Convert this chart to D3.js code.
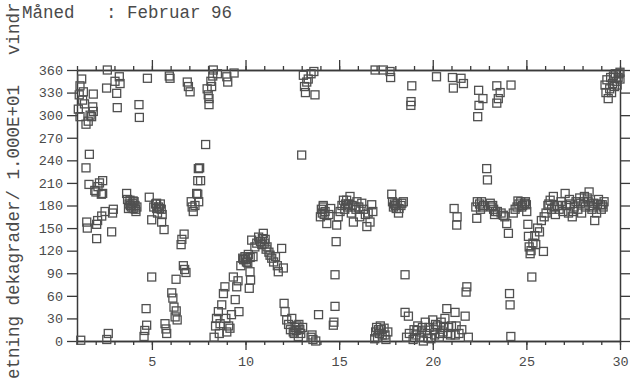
<!DOCTYPE html>
<html><head><meta charset="utf-8">
<script src="https://cdn.jsdelivr.net/npm/d3@7"></script>
<style>
html,body{margin:0;padding:0;background:#fff;}
svg{display:block;}
text{font-family:"Liberation Mono","DejaVu Sans Mono",monospace;}
</style></head>
<body>
<svg id="chart" width="631" height="380"></svg>
<script>
const titleText = "Måned   : Februar 96";
const yLabelTop = "vindr";
const yLabelBottom = "etning dekagrader/ 1.000E+01";
const yTicks = [0,30,60,90,120,150,180,210,240,270,300,330,360];
const xMajorTicks = [5,10,15,20,25,30];
const xMinorTicks = d3.range(1,31);
// [day of month, wind direction in degrees]
const observations = [
[1.07,308],[1.12,327],[1.16,339],[1.16,298],[1.2,1],[1.25,348],[1.3,320],[1.34,331],[1.4,315],[1.48,288],[1.48,230],[1.52,158],[1.55,150],[1.6,292],[1.64,208],[1.66,248],[1.7,300],[1.78,298],[1.84,311],[1.87,328],[1.87,305],[1.95,200],
[2.01,198],[2.05,136],[2.05,155],[2.1,160],[2.12,205],[2.2,210],[2.3,195],[2.32,166],[2.37,213],[2.37,196],[2.5,172],[2.58,336],[2.59,2],[2.62,360],[2.67,10],[2.85,145],[2.9,170],[2.94,175],
[3.03,345],[3.12,329],[3.15,310],[3.26,351],[3.3,342],[3.65,196],[3.7,188],[3.75,176],[3.78,182],[3.83,187],[3.85,180],[3.9,178],[3.95,183],[4.0,176],[4.0,186],[4.05,185],[4.1,180],[4.12,175],[4.15,172],[4.2,178],
[4.31,314],[4.33,297],[4.58,6],[4.62,14],[4.69,43],[4.72,21],[4.76,349],[4.86,191],[4.99,161],[4.99,85],
[5.1,178],[5.2,182],[5.25,183],[5.26,176],[5.3,170],[5.35,178],[5.4,176],[5.45,182],[5.5,175],[5.52,158],[5.55,168],[5.65,148],[5.7,23],[5.75,16],[5.79,10],[5.93,352],[5.97,349],
[6.06,64],[6.12,57],[6.18,45],[6.24,32],[6.29,82],[6.3,40],[6.35,28],[6.56,128],[6.6,135],[6.68,100],[6.72,142],[6.75,95],[6.82,91],[6.89,344],[6.95,338],
[7.04,331],[7.1,185],[7.15,178],[7.21,172],[7.3,180],[7.39,196],[7.45,213],[7.45,195],[7.48,229],[7.5,185],[7.55,230],[7.6,213],[7.87,261],[7.95,335],
[8.01,327],[8.05,322],[8.05,314],[8.15,345],[8.19,338],[8.25,352],[8.28,360],[8.32,5],[8.4,20],[8.45,30],[8.5,355],[8.55,39],[8.6,10],[8.64,23],[8.73,48],[8.82,63],[8.9,72],[8.95,30],
[9.0,12],[9.0,351],[9.05,344],[9.1,20],[9.17,17],[9.25,35],[9.35,85],[9.39,356],[9.45,55],[9.53,72],[9.6,80],[9.65,39],[9.75,100],[9.85,110],[9.9,108],
[9.97,112],[10.0,108],[10.05,105],[10.1,110],[10.12,104],[10.15,115],[10.2,70],[10.24,92],[10.25,111],[10.27,81],[10.33,134],[10.4,112],[10.5,125],[10.6,130],[10.7,138],[10.8,132],[10.87,128],[10.9,136],[10.95,143],
[11.0,130],[11.05,135],[11.1,122],[11.15,125],[11.25,118],[11.31,114],[11.4,110],[11.5,105],[11.6,112],[11.7,100],[11.75,92],[11.93,123],[12.02,97],
[12.06,50],[12.11,39],[12.2,28],[12.3,22],[12.4,15],[12.47,30],[12.55,12],[12.6,10],[12.65,18],[12.7,14],[12.75,20],[12.82,6],[12.85,22],[12.9,15],[12.95,10],[13.0,247],
[13.05,18],[13.09,353],[13.15,338],[13.2,330],[13.27,344],[13.35,348],[13.5,355],[13.5,5],[13.55,8],[13.6,2],[13.65,358],[13.71,327],[13.75,0],[13.9,35],
[14.0,165],[14.05,175],[14.1,170],[14.15,180],[14.16,178],[14.2,168],[14.25,172],[14.34,156],[14.45,168],[14.55,176],[14.69,21],[14.72,25],[14.78,46],[14.78,88],[14.84,132],[14.87,154],[14.95,165],
[15.05,172],[15.15,180],[15.23,187],[15.3,175],[15.35,182],[15.4,187],[15.45,178],[15.5,182],[15.58,192],[15.65,170],[15.7,180],[15.76,158],[15.85,178],[15.9,175],[15.95,185],[16.05,178],[16.1,165],
[16.21,183],[16.3,175],[16.4,168],[16.48,152],[16.55,170],[16.65,158],[16.74,181],[16.8,172],[16.92,360],[16.9,3],[16.95,12],
[17.0,18],[17.05,5],[17.1,15],[17.15,10],[17.2,20],[17.25,15],[17.3,8],[17.36,360],[17.4,17],[17.45,8],[17.5,2],[17.6,12],[17.72,358],[17.75,350],[17.81,195],[17.85,185],[17.9,178],[17.95,182],
[18.0,180],[18.05,176],[18.1,183],[18.17,170],[18.2,176],[18.3,180],[18.35,183],[18.43,185],[18.52,88],[18.6,5],[18.52,38],[18.7,33],[18.75,10],[18.84,318],[18.83,313],[18.88,339],[18.95,2],
[19.0,15],[19.1,8],[19.15,14],[19.2,20],[19.3,5],[19.4,12],[19.45,18],[19.5,0],[19.6,25],[19.7,10],[19.75,4],[19.8,18],[19.9,3],[20.0,28],[20.05,15],[20.1,8],[20.15,22],[20.2,351],[20.25,20],[20.35,5],[20.4,10],[20.45,25],[20.55,12],[20.6,18],[20.65,30],[20.75,43],[20.8,10],[20.85,18],[20.95,8],
[21.0,20],[21.05,350],[21.1,336],[21.14,176],[21.19,38],[21.2,8],[21.25,20],[21.28,154],[21.3,165],[21.4,10],[21.51,349],[21.55,15],[21.64,342],[21.73,33],[21.78,65],[21.82,72],[21.9,5],
[22.3,178],[22.35,163],[22.38,185],[22.4,298],[22.45,333],[22.47,313],[22.5,182],[22.55,175],[22.6,185],[22.65,178],[22.68,322],[22.7,180],[22.88,229],[22.92,214],
[23.07,183],[23.15,178],[23.2,180],[23.25,175],[23.3,168],[23.35,172],[23.42,339],[23.42,316],[23.45,172],[23.5,322],[23.6,330],[23.65,170],[23.77,167],[23.85,165],[23.95,156],
[24.04,143],[24.1,63],[24.13,48],[24.17,6],[24.18,340],[24.3,170],[24.4,175],[24.5,178],[24.55,186],[24.6,182],[24.7,185],[24.75,178],[24.8,180],[24.9,183],[24.95,185],[25.0,181],
[25.02,172],[25.08,155],[25.11,139],[25.15,125],[25.2,116],[25.25,120],[25.29,85],[25.35,130],[25.45,140],[25.5,128],[25.6,150],[25.7,145],[25.8,160],[25.91,119],[25.95,165],
[26.05,170],[26.15,180],[26.2,182],[26.27,187],[26.35,175],[26.44,192],[26.5,178],[26.55,168],[26.65,180],[26.75,175],[26.85,185],[26.9,180],[26.95,172],
[27.07,196],[27.15,180],[27.25,170],[27.3,188],[27.35,182],[27.45,165],[27.5,172],[27.55,178],[27.65,185],[27.75,175],[27.85,190],[27.9,183],[27.95,170],
[28.05,185],[28.1,192],[28.15,178],[28.25,190],[28.3,185],[28.35,198],[28.4,180],[28.5,175],[28.55,178],[28.6,183],[28.65,160],[28.75,170],[28.8,182],[28.85,188],[28.95,181],
[29.0,175],[29.05,181],[29.1,178],[29.15,185],[29.2,340],[29.25,330],[29.3,347],[29.37,322],[29.45,335],[29.5,350],[29.55,330],[29.6,342],[29.65,352],[29.7,338],[29.75,355],[29.8,345],[29.85,340],[29.9,350],[29.95,355],[30.0,348],[30.0,357]
];

const svg = d3.select("#chart");
const plotLeft = 77, plotRight = 620, plotTop = 70, plotBottom = 341;
const x = d3.scaleLinear().domain([1,30]).range([plotLeft,plotRight]);
const y = d3.scaleLinear().domain([0,360]).range([plotBottom,plotTop]);
const ink = "#3a3a3a", textInk = "#4a4a4a";

svg.append("text").attr("x",22).attr("y",18).attr("font-size",17.5).attr("fill",textInk)
  .attr("xml:space","preserve").style("white-space","pre").text(titleText);
svg.append("text").attr("transform","translate(19,55) rotate(-90)").attr("font-size",17.5)
  .attr("fill",textInk).text(yLabelTop);
svg.append("text").attr("transform","translate(19,379) rotate(-90)").attr("font-size",17.5)
  .attr("fill",textInk).text(yLabelBottom);

function styleAxis(g){
  g.select(".domain").attr("stroke",ink).attr("stroke-width",1.5);
  g.selectAll(".tick line").attr("stroke",ink).attr("stroke-width",1.3);
  g.selectAll(".tick text").attr("fill",textInk).attr("font-size",13.5)
    .attr("font-family","'Liberation Mono',monospace");
}
svg.append("g").attr("transform",`translate(${plotLeft},0)`)
  .call(d3.axisLeft(y).tickValues(yTicks).tickSize(10).tickSizeOuter(0).tickPadding(4))
  .call(styleAxis);
svg.append("g").attr("transform",`translate(${plotRight},0)`)
  .call(d3.axisRight(y).tickValues(yTicks).tickSize(10).tickSizeOuter(0).tickFormat(""))
  .call(styleAxis);
svg.append("g").attr("transform",`translate(0,${plotBottom})`)
  .call(d3.axisBottom(x).tickValues(xMinorTicks).tickSize(4).tickSizeOuter(0).tickFormat(""))
  .call(styleAxis);
svg.append("g").attr("transform",`translate(0,${plotBottom})`)
  .call(d3.axisBottom(x).tickValues(xMajorTicks).tickSize(9).tickSizeOuter(0).tickPadding(6).tickFormat(d3.format("d")))
  .call(styleAxis);
svg.append("g").attr("transform",`translate(0,${plotTop})`)
  .call(d3.axisTop(x).tickValues(xMinorTicks).tickSize(4).tickSizeOuter(0).tickFormat(""))
  .call(styleAxis);
svg.append("g").attr("transform",`translate(0,${plotTop})`)
  .call(d3.axisTop(x).tickValues(xMajorTicks).tickSize(10).tickSizeOuter(0).tickFormat(""))
  .call(styleAxis);

const s = 8;
svg.append("g").selectAll("rect").data(observations).join("rect")
  .attr("x",d=>x(d[0])-s/2).attr("y",d=>y(d[1])-s/2)
  .attr("width",s).attr("height",s)
  .attr("fill","none").attr("stroke","#505050").attr("stroke-width",1.3);
</script>
</body></html>
